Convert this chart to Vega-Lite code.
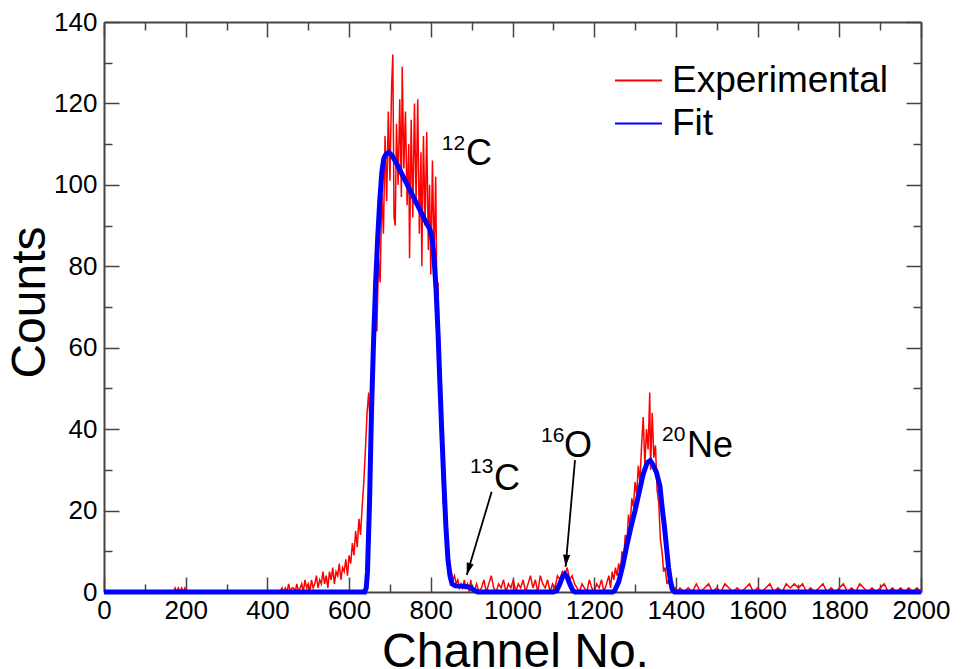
{
  "$schema": "https://vega.github.io/schema/vega-lite/v6.json",
  "width": 817,
  "height": 570,
  "autosize": "none",
  "padding": {"left": 104, "top": 22, "right": 51, "bottom": 77},
  "background": "white",
  "config": {
    "font": "Liberation Sans",
    "view": {"stroke": null},
    "axis": {
      "grid": false,
      "domainColor": "#444",
      "domainWidth": 2,
      "tickColor": "#444",
      "tickWidth": 1.5,
      "labelFont": "Liberation Sans",
      "labelFontSize": 26,
      "labelColor": "#000",
      "labelFlush": false,
      "labelOverlap": false,
      "labelBound": false,
      "titleFont": "Liberation Sans",
      "titleFontWeight": "normal",
      "titleColor": "#000"
    },
    "legend": {
      "orient": "none",
      "legendX": 510,
      "legendY": 34,
      "symbolType": "stroke",
      "symbolSize": 2209,
      "symbolStrokeWidth": 2,
      "labelFont": "Liberation Sans",
      "labelFontSize": 37,
      "labelColor": "#000",
      "labelLimit": 0,
      "labelOffset": 9,
      "rowPadding": 0,
      "padding": 0
    }
  },
  "datasets": {
    "experimental": [
      {"channel": 0, "counts": 0}, {"channel": 170, "counts": 0}, {"channel": 174, "counts": 1}, {"channel": 178, "counts": 0},
      {"channel": 182, "counts": 1}, {"channel": 186, "counts": 0}, {"channel": 190, "counts": 1}, {"channel": 194, "counts": 0},
      {"channel": 198, "counts": 1}, {"channel": 202, "counts": 0}, {"channel": 430, "counts": 0}, {"channel": 436, "counts": 1},
      {"channel": 440, "counts": 0}, {"channel": 444, "counts": 1}, {"channel": 448, "counts": 0}, {"channel": 452, "counts": 2},
      {"channel": 456, "counts": 0}, {"channel": 460, "counts": 1}, {"channel": 464, "counts": 1}, {"channel": 468, "counts": 0},
      {"channel": 472, "counts": 2}, {"channel": 476, "counts": 0}, {"channel": 480, "counts": 1}, {"channel": 484, "counts": 2},
      {"channel": 488, "counts": 0}, {"channel": 492, "counts": 3}, {"channel": 496, "counts": 1}, {"channel": 500, "counts": 2},
      {"channel": 504, "counts": 0}, {"channel": 508, "counts": 3}, {"channel": 512, "counts": 1}, {"channel": 516, "counts": 2},
      {"channel": 520, "counts": 4}, {"channel": 524, "counts": 1}, {"channel": 528, "counts": 3}, {"channel": 532, "counts": 2},
      {"channel": 536, "counts": 5}, {"channel": 540, "counts": 2}, {"channel": 544, "counts": 4}, {"channel": 548, "counts": 1},
      {"channel": 552, "counts": 5}, {"channel": 556, "counts": 3}, {"channel": 560, "counts": 6}, {"channel": 564, "counts": 2},
      {"channel": 568, "counts": 5}, {"channel": 572, "counts": 4}, {"channel": 576, "counts": 7}, {"channel": 580, "counts": 3},
      {"channel": 584, "counts": 6}, {"channel": 588, "counts": 5}, {"channel": 592, "counts": 8}, {"channel": 596, "counts": 4},
      {"channel": 600, "counts": 9}, {"channel": 604, "counts": 7}, {"channel": 608, "counts": 12}, {"channel": 612, "counts": 9},
      {"channel": 616, "counts": 15}, {"channel": 620, "counts": 11}, {"channel": 624, "counts": 18}, {"channel": 628, "counts": 14},
      {"channel": 632, "counts": 21}, {"channel": 636, "counts": 27}, {"channel": 640, "counts": 35}, {"channel": 644, "counts": 44},
      {"channel": 648, "counts": 49}, {"channel": 652, "counts": 40}, {"channel": 656, "counts": 58}, {"channel": 660, "counts": 52},
      {"channel": 664, "counts": 70}, {"channel": 668, "counts": 64}, {"channel": 672, "counts": 82}, {"channel": 676, "counts": 76},
      {"channel": 680, "counts": 98}, {"channel": 684, "counts": 88}, {"channel": 688, "counts": 112}, {"channel": 692, "counts": 96},
      {"channel": 696, "counts": 118}, {"channel": 700, "counts": 101}, {"channel": 704, "counts": 124}, {"channel": 707, "counts": 132},
      {"channel": 710, "counts": 92}, {"channel": 713, "counts": 90}, {"channel": 716, "counts": 115}, {"channel": 720, "counts": 100},
      {"channel": 724, "counts": 121}, {"channel": 728, "counts": 97}, {"channel": 730, "counts": 129}, {"channel": 734, "counts": 104},
      {"channel": 738, "counts": 118}, {"channel": 742, "counts": 95}, {"channel": 746, "counts": 110}, {"channel": 748, "counts": 82},
      {"channel": 752, "counts": 116}, {"channel": 756, "counts": 92}, {"channel": 760, "counts": 120}, {"channel": 764, "counts": 96},
      {"channel": 768, "counts": 121}, {"channel": 772, "counts": 88}, {"channel": 776, "counts": 108}, {"channel": 778, "counts": 80},
      {"channel": 782, "counts": 112}, {"channel": 786, "counts": 90}, {"channel": 790, "counts": 113}, {"channel": 794, "counts": 84},
      {"channel": 797, "counts": 100}, {"channel": 800, "counts": 78}, {"channel": 804, "counts": 106}, {"channel": 808, "counts": 82},
      {"channel": 812, "counts": 102}, {"channel": 815, "counts": 70}, {"channel": 818, "counts": 76}, {"channel": 822, "counts": 45},
      {"channel": 826, "counts": 39}, {"channel": 830, "counts": 22}, {"channel": 834, "counts": 20}, {"channel": 838, "counts": 12},
      {"channel": 842, "counts": 13}, {"channel": 846, "counts": 6}, {"channel": 850, "counts": 5}, {"channel": 854, "counts": 3},
      {"channel": 858, "counts": 4}, {"channel": 862, "counts": 2}, {"channel": 866, "counts": 3}, {"channel": 870, "counts": 1},
      {"channel": 874, "counts": 2}, {"channel": 878, "counts": 1}, {"channel": 882, "counts": 3}, {"channel": 886, "counts": 1},
      {"channel": 890, "counts": 2}, {"channel": 894, "counts": 0}, {"channel": 898, "counts": 3}, {"channel": 900, "counts": 1},
      {"channel": 906, "counts": 0}, {"channel": 912, "counts": 2}, {"channel": 918, "counts": 0}, {"channel": 924, "counts": 1},
      {"channel": 930, "counts": 3}, {"channel": 936, "counts": 0}, {"channel": 942, "counts": 2}, {"channel": 948, "counts": 4},
      {"channel": 954, "counts": 1}, {"channel": 960, "counts": 0}, {"channel": 966, "counts": 2}, {"channel": 972, "counts": 1},
      {"channel": 978, "counts": 3}, {"channel": 984, "counts": 0}, {"channel": 990, "counts": 2}, {"channel": 996, "counts": 1},
      {"channel": 1002, "counts": 3}, {"channel": 1008, "counts": 0}, {"channel": 1014, "counts": 2}, {"channel": 1020, "counts": 1},
      {"channel": 1026, "counts": 3}, {"channel": 1032, "counts": 0}, {"channel": 1038, "counts": 2}, {"channel": 1044, "counts": 4},
      {"channel": 1050, "counts": 1}, {"channel": 1056, "counts": 3}, {"channel": 1062, "counts": 0}, {"channel": 1068, "counts": 4},
      {"channel": 1074, "counts": 2}, {"channel": 1080, "counts": 1}, {"channel": 1086, "counts": 3}, {"channel": 1092, "counts": 0},
      {"channel": 1098, "counts": 2}, {"channel": 1104, "counts": 1}, {"channel": 1110, "counts": 4}, {"channel": 1116, "counts": 3},
      {"channel": 1122, "counts": 5}, {"channel": 1128, "counts": 4}, {"channel": 1134, "counts": 6}, {"channel": 1140, "counts": 3},
      {"channel": 1146, "counts": 4}, {"channel": 1152, "counts": 2}, {"channel": 1158, "counts": 1}, {"channel": 1164, "counts": 0},
      {"channel": 1170, "counts": 2}, {"channel": 1176, "counts": 1}, {"channel": 1182, "counts": 0}, {"channel": 1188, "counts": 3},
      {"channel": 1194, "counts": 1}, {"channel": 1200, "counts": 0}, {"channel": 1206, "counts": 2}, {"channel": 1212, "counts": 1},
      {"channel": 1218, "counts": 3}, {"channel": 1224, "counts": 0}, {"channel": 1230, "counts": 2}, {"channel": 1236, "counts": 4},
      {"channel": 1240, "counts": 1}, {"channel": 1244, "counts": 5}, {"channel": 1248, "counts": 3}, {"channel": 1252, "counts": 6},
      {"channel": 1256, "counts": 4}, {"channel": 1260, "counts": 7}, {"channel": 1264, "counts": 5}, {"channel": 1268, "counts": 10},
      {"channel": 1272, "counts": 8}, {"channel": 1276, "counts": 14}, {"channel": 1280, "counts": 12}, {"channel": 1284, "counts": 19},
      {"channel": 1288, "counts": 16}, {"channel": 1292, "counts": 23}, {"channel": 1296, "counts": 21}, {"channel": 1300, "counts": 27},
      {"channel": 1304, "counts": 24}, {"channel": 1308, "counts": 31}, {"channel": 1312, "counts": 27}, {"channel": 1316, "counts": 36},
      {"channel": 1320, "counts": 43}, {"channel": 1324, "counts": 31}, {"channel": 1328, "counts": 40}, {"channel": 1332, "counts": 35},
      {"channel": 1336, "counts": 49}, {"channel": 1338, "counts": 30}, {"channel": 1342, "counts": 44}, {"channel": 1346, "counts": 33},
      {"channel": 1350, "counts": 36}, {"channel": 1354, "counts": 25}, {"channel": 1358, "counts": 22}, {"channel": 1362, "counts": 13},
      {"channel": 1366, "counts": 10}, {"channel": 1370, "counts": 5}, {"channel": 1374, "counts": 6}, {"channel": 1378, "counts": 2},
      {"channel": 1382, "counts": 3}, {"channel": 1386, "counts": 1}, {"channel": 1390, "counts": 2}, {"channel": 1394, "counts": 0},
      {"channel": 1398, "counts": 1}, {"channel": 1404, "counts": 0}, {"channel": 1410, "counts": 1}, {"channel": 1420, "counts": 0},
      {"channel": 1430, "counts": 1}, {"channel": 1440, "counts": 0}, {"channel": 1450, "counts": 2}, {"channel": 1460, "counts": 0},
      {"channel": 1470, "counts": 1}, {"channel": 1480, "counts": 2}, {"channel": 1490, "counts": 0}, {"channel": 1500, "counts": 1},
      {"channel": 1510, "counts": 0}, {"channel": 1520, "counts": 2}, {"channel": 1530, "counts": 1}, {"channel": 1540, "counts": 0},
      {"channel": 1550, "counts": 1}, {"channel": 1560, "counts": 0}, {"channel": 1570, "counts": 1}, {"channel": 1580, "counts": 2},
      {"channel": 1590, "counts": 0}, {"channel": 1600, "counts": 1}, {"channel": 1610, "counts": 0}, {"channel": 1620, "counts": 1},
      {"channel": 1630, "counts": 2}, {"channel": 1640, "counts": 0}, {"channel": 1650, "counts": 1}, {"channel": 1660, "counts": 0},
      {"channel": 1670, "counts": 2}, {"channel": 1680, "counts": 1}, {"channel": 1690, "counts": 2}, {"channel": 1700, "counts": 1},
      {"channel": 1710, "counts": 2}, {"channel": 1720, "counts": 0}, {"channel": 1730, "counts": 1}, {"channel": 1740, "counts": 0},
      {"channel": 1750, "counts": 1}, {"channel": 1760, "counts": 2}, {"channel": 1770, "counts": 0}, {"channel": 1780, "counts": 1},
      {"channel": 1790, "counts": 0}, {"channel": 1800, "counts": 1}, {"channel": 1810, "counts": 2}, {"channel": 1820, "counts": 0},
      {"channel": 1830, "counts": 1}, {"channel": 1840, "counts": 0}, {"channel": 1850, "counts": 2}, {"channel": 1860, "counts": 1},
      {"channel": 1870, "counts": 0}, {"channel": 1880, "counts": 1}, {"channel": 1890, "counts": 0}, {"channel": 1900, "counts": 1},
      {"channel": 1910, "counts": 2}, {"channel": 1920, "counts": 0}, {"channel": 1930, "counts": 1}, {"channel": 1940, "counts": 0},
      {"channel": 1950, "counts": 1}, {"channel": 1960, "counts": 0}, {"channel": 1970, "counts": 1}, {"channel": 1980, "counts": 0},
      {"channel": 1990, "counts": 1}, {"channel": 2000, "counts": 0}
    ],
    "fit": [
      {"channel": 0, "counts": 0}, {"channel": 638, "counts": 0}, {"channel": 642, "counts": 1}, {"channel": 645, "counts": 5},
      {"channel": 650, "counts": 22}, {"channel": 655, "counts": 45}, {"channel": 660, "counts": 62}, {"channel": 665, "counts": 76},
      {"channel": 670, "counts": 87}, {"channel": 675, "counts": 96}, {"channel": 680, "counts": 103}, {"channel": 685, "counts": 106.5},
      {"channel": 690, "counts": 107.5}, {"channel": 697, "counts": 108}, {"channel": 705, "counts": 107.2}, {"channel": 715, "counts": 105.5},
      {"channel": 730, "counts": 102.5}, {"channel": 745, "counts": 99.5}, {"channel": 760, "counts": 96.5}, {"channel": 775, "counts": 93.5},
      {"channel": 790, "counts": 90.5}, {"channel": 798, "counts": 89}, {"channel": 803, "counts": 87}, {"channel": 808, "counts": 82},
      {"channel": 813, "counts": 74}, {"channel": 818, "counts": 63}, {"channel": 822, "counts": 52}, {"channel": 827, "counts": 39},
      {"channel": 832, "counts": 27}, {"channel": 837, "counts": 16}, {"channel": 842, "counts": 8}, {"channel": 847, "counts": 4},
      {"channel": 852, "counts": 2}, {"channel": 860, "counts": 1.5}, {"channel": 880, "counts": 1.4}, {"channel": 895, "counts": 1.2},
      {"channel": 905, "counts": 0.5}, {"channel": 915, "counts": 0}, {"channel": 1100, "counts": 0}, {"channel": 1108, "counts": 0.3},
      {"channel": 1115, "counts": 1.8}, {"channel": 1122, "counts": 3.6}, {"channel": 1128, "counts": 4.4}, {"channel": 1134, "counts": 3.6},
      {"channel": 1141, "counts": 1.8}, {"channel": 1148, "counts": 0.3}, {"channel": 1153, "counts": 0}, {"channel": 1245, "counts": 0},
      {"channel": 1250, "counts": 0.3}, {"channel": 1260, "counts": 2.5}, {"channel": 1270, "counts": 6.5}, {"channel": 1280, "counts": 11.5},
      {"channel": 1290, "counts": 16}, {"channel": 1300, "counts": 20}, {"channel": 1310, "counts": 24.5}, {"channel": 1320, "counts": 29},
      {"channel": 1330, "counts": 31.8}, {"channel": 1337, "counts": 32.3}, {"channel": 1344, "counts": 31.2}, {"channel": 1352, "counts": 29.5},
      {"channel": 1361, "counts": 26}, {"channel": 1366, "counts": 21}, {"channel": 1372, "counts": 16}, {"channel": 1377, "counts": 11},
      {"channel": 1382, "counts": 6}, {"channel": 1387, "counts": 2.5}, {"channel": 1392, "counts": 0.5}, {"channel": 1397, "counts": 0},
      {"channel": 2000, "counts": 0}
    ],
    "series": [],
    "labels": [
      {"text": "C", "channel": 886, "counts": 104.9},
      {"text": "C", "channel": 955, "counts": 25.1},
      {"text": "O", "channel": 1126, "counts": 33.2},
      {"text": "Ne", "channel": 1427, "counts": 33.2}
    ],
    "superscripts": [
      {"text": "12", "channel": 827, "counts": 108.6},
      {"text": "13", "channel": 896, "counts": 29.2},
      {"text": "16", "channel": 1070, "counts": 36.9},
      {"text": "20", "channel": 1366, "counts": 37.1}
    ],
    "arrows": [
      {"isotope": "13C", "channel": 949, "counts": 24.6, "channel_end": 888, "counts_end": 4.2},
      {"isotope": "16O", "channel": 1153, "counts": 32.4, "channel_end": 1130, "counts_end": 6.2}
    ]
  },
  "layer": [
    {
      "data": {"name": "experimental"},
      "mark": {"type": "line", "strokeWidth": 1.5},
      "encoding": {
        "x": {
          "field": "channel",
          "type": "quantitative",
          "scale": {"domain": [0, 2000], "nice": false, "zero": false},
          "axis": {
            "orient": "bottom",
            "format": "d",
            "values": [0, 100, 200, 300, 400, 500, 600, 700, 800, 900, 1000, 1100, 1200, 1300, 1400, 1500, 1600, 1700, 1800, 1900, 2000],
            "labelExpr": "datum.value % 200 === 0 ? datum.label : ''",
            "tickSize": {"condition": {"test": "datum.value % 200 === 0", "value": -15}, "value": -8},
            "labelPadding": 20,
            "title": "Channel No.",
            "titleFontSize": 48,
            "titleX": 411,
            "titleY": 74,
            "titleAlign": "center",
            "titleBaseline": "alphabetic"
          }
        },
        "y": {
          "field": "counts",
          "type": "quantitative",
          "scale": {"domain": [0, 140], "nice": false},
          "axis": {
            "orient": "left",
            "format": "d",
            "values": [0, 10, 20, 30, 40, 50, 60, 70, 80, 90, 100, 110, 120, 130, 140],
            "labelExpr": "datum.value % 20 === 0 ? datum.label : ''",
            "tickSize": {"condition": {"test": "datum.value % 20 === 0", "value": -15}, "value": -8},
            "labelPadding": 22,
            "title": "Counts",
            "titleFontSize": 48,
            "titleAngle": 270,
            "titleX": -60,
            "titleY": 280,
            "titleAlign": "center",
            "titleBaseline": "alphabetic"
          }
        },
        "color": {
          "datum": "Experimental",
          "type": "nominal",
          "scale": {"domain": ["Experimental", "Fit"], "range": ["#ff0000", "#0000ff"]},
          "legend": null
        }
      }
    },
    {
      "data": {"name": "fit"},
      "mark": {"type": "line", "strokeWidth": 5},
      "encoding": {
        "x": {
          "field": "channel",
          "type": "quantitative",
          "axis": {
            "orient": "top",
            "values": [0, 100, 200, 300, 400, 500, 600, 700, 800, 900, 1000, 1100, 1200, 1300, 1400, 1500, 1600, 1700, 1800, 1900, 2000],
            "labels": false,
            "tickSize": {"condition": {"test": "datum.value % 200 === 0", "value": -15}, "value": -8},
            "title": null
          }
        },
        "y": {
          "field": "counts",
          "type": "quantitative",
          "axis": {
            "orient": "right",
            "values": [0, 10, 20, 30, 40, 50, 60, 70, 80, 90, 100, 110, 120, 130, 140],
            "labels": false,
            "tickSize": {"condition": {"test": "datum.value % 20 === 0", "value": -15}, "value": -8},
            "title": null
          }
        },
        "color": {"datum": "Fit", "type": "nominal", "legend": null}
      }
    },
    {
      "data": {"name": "series"},
      "mark": {"type": "line", "strokeWidth": 2},
      "encoding": {
        "x": {"field": "channel", "type": "quantitative", "axis": null},
        "y": {"field": "counts", "type": "quantitative", "axis": null},
        "color": {"field": "series", "type": "nominal", "legend": {"title": null, "labelLimit": 0}}
      }
    },
    {
      "data": {"name": "arrows"},
      "mark": {"type": "rule", "strokeWidth": 1.8, "color": "#000"},
      "encoding": {
        "x": {"field": "channel", "type": "quantitative", "axis": null},
        "y": {"field": "counts", "type": "quantitative", "axis": null},
        "x2": {"field": "channel_end"},
        "y2": {"field": "counts_end"}
      }
    },
    {
      "data": {"name": "arrows"},
      "transform": [{"filter": "datum.isotope === '13C'"}],
      "mark": {"type": "point", "shape": "M0,0L-0.3,-1L0.3,-1Z", "filled": true, "color": "#000", "opacity": 1, "size": 576, "angle": 16.7},
      "encoding": {
        "x": {"field": "channel_end", "type": "quantitative", "axis": null},
        "y": {"field": "counts_end", "type": "quantitative", "axis": null}
      }
    },
    {
      "data": {"name": "arrows"},
      "transform": [{"filter": "datum.isotope === '16O'"}],
      "mark": {"type": "point", "shape": "M0,0L-0.3,-1L0.3,-1Z", "filled": true, "color": "#000", "opacity": 1, "size": 576, "angle": 5},
      "encoding": {
        "x": {"field": "channel_end", "type": "quantitative", "axis": null},
        "y": {"field": "counts_end", "type": "quantitative", "axis": null}
      }
    },
    {
      "data": {"name": "labels"},
      "mark": {"type": "text", "fontSize": 36, "align": "left", "baseline": "alphabetic", "color": "#000"},
      "encoding": {
        "x": {"field": "channel", "type": "quantitative", "axis": null},
        "y": {"field": "counts", "type": "quantitative", "axis": null},
        "text": {"field": "text"}
      }
    },
    {
      "data": {"name": "superscripts"},
      "mark": {"type": "text", "fontSize": 21, "align": "left", "baseline": "alphabetic", "color": "#000"},
      "encoding": {
        "x": {"field": "channel", "type": "quantitative", "axis": null},
        "y": {"field": "counts", "type": "quantitative", "axis": null},
        "text": {"field": "text"}
      }
    }
  ],
  "resolve": {"axis": {"x": "independent", "y": "independent"}, "legend": {"color": "independent"}}
}
